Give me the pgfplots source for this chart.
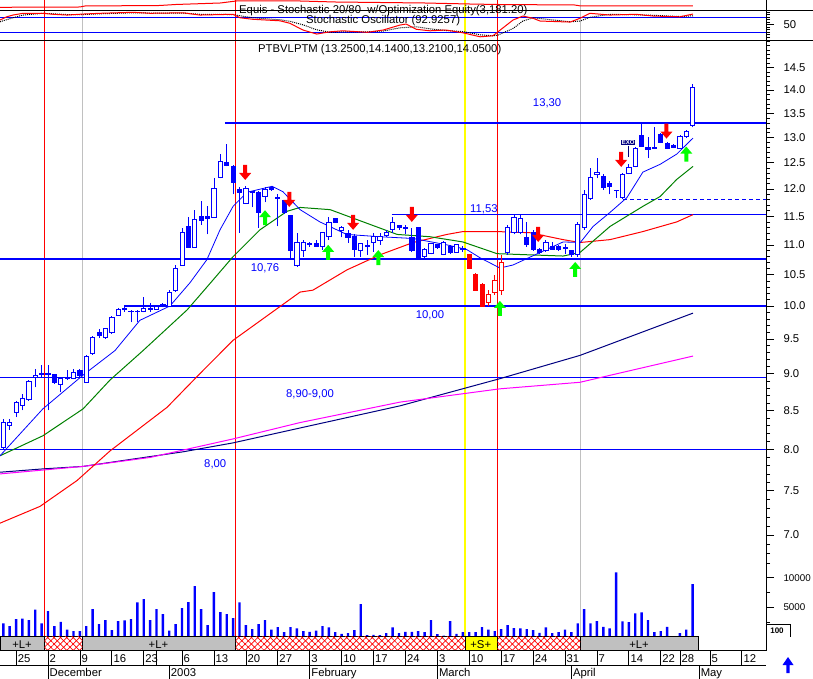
\documentclass[border=0pt]{standalone}
\usepackage{fontspec}
\setmainfont{Liberation Sans}
\usepackage{pgfplots}
\pgfplotsset{compat=1.18}
\usetikzlibrary{patterns.meta}

\definecolor{cblue}{RGB}{0,0,255}
\definecolor{cred}{RGB}{255,0,0}
\definecolor{cgreen}{RGB}{0,128,0}
\definecolor{cnavy}{RGB}{0,0,128}
\definecolor{cmag}{RGB}{255,0,255}
\definecolor{cgray}{RGB}{192,192,192}
\definecolor{cyel}{RGB}{255,255,0}
\definecolor{agreen}{RGB}{0,255,0}
\newcommand\fs{\fontsize{11.3}{13}\selectfont}

\pgfdeclareplotmark{darrow}{%
 \pgfpathmoveto{\pgfqpoint{0pt}{0pt}}%
 \pgfpathlineto{\pgfqpoint{-6pt}{7pt}}%
 \pgfpathlineto{\pgfqpoint{-2pt}{7pt}}%
 \pgfpathlineto{\pgfqpoint{-2pt}{15pt}}%
 \pgfpathlineto{\pgfqpoint{2pt}{15pt}}%
 \pgfpathlineto{\pgfqpoint{2pt}{7pt}}%
 \pgfpathlineto{\pgfqpoint{6pt}{7pt}}%
 \pgfpathclose\pgfusepathqfill}
\pgfdeclareplotmark{uarrow}{%
 \pgfpathmoveto{\pgfqpoint{0pt}{0pt}}%
 \pgfpathlineto{\pgfqpoint{-6pt}{-7pt}}%
 \pgfpathlineto{\pgfqpoint{-2pt}{-7pt}}%
 \pgfpathlineto{\pgfqpoint{-2pt}{-15pt}}%
 \pgfpathlineto{\pgfqpoint{2pt}{-15pt}}%
 \pgfpathlineto{\pgfqpoint{2pt}{-7pt}}%
 \pgfpathlineto{\pgfqpoint{6pt}{-7pt}}%
 \pgfpathclose\pgfusepathqfill}

% candle: color, fill, index, open, high, low, close
\newcommand\cdl[7]{%
 \pgfmathsetmacro\xl{#3-0.33}\pgfmathsetmacro\xr{#3+0.33}%
 \edef\tmp{\noexpand\addplot[#1, line width=0.8pt] coordinates {(#3,#6) (#3,#5)};%
 \noexpand\addplot[draw=#1, fill=#2, line width=0.8pt] coordinates {(\xl,#4) (\xr,#4) (\xr,#7) (\xl,#7)} -- cycle;}%
 \tmp}
\newcommand\W[5]{\cdl{cblue}{white}{#1}{#2}{#3}{#4}{#5}}
\newcommand\F[5]{\cdl{cblue}{cblue}{#1}{#2}{#3}{#4}{#5}}
\newcommand\RW[5]{\cdl{cred}{white}{#1}{#2}{#3}{#4}{#5}}
\newcommand\RF[5]{\cdl{cred}{cred}{#1}{#2}{#3}{#4}{#5}}

\pgfplotsset{panel/.style={anchor=north west, scale only axis, width=766pt,
  xmin=-0.517, xmax=119.49},
  rightax/.style={axis x line=none, axis y line*=right, tick align=outside,
  major tick length=8pt, minor tick length=4pt,
  every tick/.style={black, line width=0.6pt},
  axis line style={black, line width=0.8pt},
  yticklabel style={font=\fs, anchor=west, xshift=6pt},
  scaled y ticks=false}}

\begin{document}
\begin{tikzpicture}[x=1pt,y=1pt]
\useasboundingbox (0,0) rectangle (813,-679);

% ---------- signal lines across panels
\begin{axis}[panel, at={(0pt,0pt)}, height=636.7pt, ymin=0, ymax=1, axis lines=none]
\addplot[color=cred, line width=1.3pt] coordinates {(6.45,0) (6.45,1)};
\addplot[color=cgray, line width=1.3pt] coordinates {(12.4,0) (12.4,1)};
\addplot[color=cred, line width=1.3pt] coordinates {(36.4,0) (36.4,1)};
\addplot[color=cyel, line width=1.3pt] coordinates {(72.35,0) (72.35,1)};
\addplot[color=cred, line width=1.3pt] coordinates {(77.4,0) (77.4,1)};
\addplot[color=cgray, line width=1.3pt] coordinates {(90.4,0) (90.4,1)};
\end{axis}

% ---------- equity panel
\begin{axis}[panel, rightax, at={(0pt,0pt)}, height=10.7pt, ymin=2993, ymax=3421,
  ytick=\empty, minor ytick={3050,3150,3250,3350}]
\addplot[color=cred, line width=1pt] coordinates {(-0.52,3129) (12,3141) (12.8,3181) (24.5,3201) (27,3241) (34,3301) (36.5,3381) (46.5,3381) (52,3341) (66,3301) (73,3261) (77.5,3241) (89.5,3221) (90.5,3181) (108.05,3181)};
\end{axis}

% ---------- stochastic panel
\begin{axis}[panel, rightax, at={(0pt,-10.7pt)}, height=30pt, ymin=-13.6, ymax=106.4,
  ytick={50}, yticklabels={50}, minor ytick={0,10,...,100}]
\addplot[color=cblue, line width=1.3pt] coordinates {(-0.517,80) (119.49,80)};
\addplot[color=cblue, line width=1.3pt] coordinates {(-0.517,20) (119.49,20)};
\addplot[black, densely dotted, line width=1pt] coordinates {(-0.52,62) (1.5,78) (3.1,89) (6.2,96) (9.98,91) (12.5,91) (15.15,94) (20.3,98) (23,97) (28.15,97) (30.8,92) (36,91) (37.1,86) (39.1,78) (43.35,70) (44.9,64) (46.95,50) (49.1,30) (51.2,20) (53.2,22) (57,22) (59.5,25) (62.15,38) (64.7,42) (66.85,34) (69.35,27) (72,23) (74.7,10) (76.7,6) (77.5,9) (79.85,35) (81.4,65) (83,78) (84.1,75) (88.8,62) (90.35,65) (91.9,80) (95.05,92) (99.1,90) (101.8,88) (106,83) (108.05,86)};
\addplot[color=cred, line width=1pt] coordinates {(-0.52,69) (0.53,82) (1.52,89) (3.09,96) (6.22,96) (7.79,92) (9.98,89) (12.5,93) (15.15,96) (20.3,100) (23.0,96) (28.15,98) (30.8,89) (36.0,92) (37.1,78) (39.1,72) (43.35,66) (44.9,56) (46.95,29) (49.1,13) (51.2,22) (53.2,26) (57.0,20) (59.5,29) (62.15,49) (63.1,53) (64.7,32) (66.85,26) (69.35,29) (72.0,18) (74.7,2) (76.7,6) (77.5,22) (79.85,69) (81.4,85) (83.0,76) (84.1,65) (88.8,61) (90.35,76) (91.9,96) (95.05,89) (99.1,92) (101.8,85) (106.0,82) (108.05,93)};
\end{axis}

% ---------- main price panel
\begin{axis}[panel, rightax, at={(0pt,-40.7pt)}, height=526.3pt, ymode=log, ymin=6.66, ymax=15.12,
  ytick={7,7.5,8,8.5,9,9.5,10,10.5,11,11.5,12,12.5,13,13.5,14,14.5},
  yticklabels={7.0,7.5,8.0,8.5,9.0,9.5,10.0,10.5,11.0,11.5,12.0,12.5,13.0,13.5,14.0,14.5},
  minor ytick={6.7,6.8,6.9,7.1,7.2,7.3,7.4,7.6,7.7,7.8,7.9,8.1,8.2,8.3,8.4,8.6,8.7,8.8,8.9,9.1,9.2,9.3,9.4,9.6,9.7,9.8,9.9,10.1,10.2,10.3,10.4,10.6,10.7,10.8,10.9,11.1,11.2,11.3,11.4,11.6,11.7,11.8,11.9,12.1,12.2,12.3,12.4,12.6,12.7,12.8,12.9,13.1,13.2,13.3,13.4,13.6,13.7,13.8,13.9,14.1,14.2,14.3,14.4,14.6,14.7,14.8,14.9,15.0,15.1}]
% support / resistance lines
\addplot[color=cblue, line width=1.4pt] coordinates {(34.7,13.30) (119.49,13.30)};
\addplot[color=cblue, line width=1.4pt] coordinates {(60.85,11.53) (119.49,11.53)};
\addplot[color=cblue, line width=1.4pt] coordinates {(-0.517,10.76) (119.49,10.76)};
\addplot[color=cblue, line width=1.4pt] coordinates {(18.9,10.00) (119.49,10.00)};
\addplot[color=cblue, line width=1.4pt] coordinates {(-0.517,8.95) (119.49,8.95)};
\addplot[color=cblue, line width=1.4pt] coordinates {(-0.517,8.00) (119.49,8.00)};
\addplot[color=cblue, line width=1.3pt, dash pattern=on 4pt off 3pt] coordinates {(97.1,11.80) (119.49,11.80)};
% moving averages
\addplot[color=cnavy, line width=1pt] coordinates {(-0.52,7.72) (6.2,7.76) (12.5,7.79) (20.3,7.88) (28.15,7.97) (36.0,8.08) (46.5,8.27) (62.15,8.56) (77.8,8.93) (90.35,9.26) (108.05,9.89)};
\addplot[color=cmag, line width=1pt] coordinates {(-0.52,7.70) (12.5,7.79) (23.0,7.90) (36.0,8.13) (46.5,8.34) (62.15,8.61) (77.8,8.79) (90.35,8.88) (108.05,9.25)};
\addplot[color=cred, line width=1pt] coordinates {(-0.52,7.13) (5.75,7.32) (11.55,7.62) (16.7,7.98) (25.65,8.54) (30.8,9.00) (36.0,9.48) (46.5,10.22) (48.5,10.25) (53.85,10.58) (59.0,10.83) (64.2,11.04) (69.5,11.18) (72.0,11.23) (77.35,11.23) (82.5,11.21) (87.7,11.09) (90.35,11.04) (95.05,11.09) (100.2,11.23) (105.5,11.40) (108.05,11.53)};
\addplot[color=cgreen, line width=1pt] coordinates {(-0.52,7.92) (6.2,8.17) (12.5,8.52) (16.7,8.91) (21.9,9.33) (28.8,9.94) (31.9,10.30) (36.0,10.80) (40.2,11.26) (44.45,11.59) (46.5,11.66) (51.2,11.62) (56.4,11.40) (61.7,11.18) (66.85,11.14) (72.0,11.05) (77.35,10.85) (82.5,10.83) (87.7,10.81) (90.35,10.87) (95.05,11.32) (100.2,11.68) (102.9,11.86) (105.5,12.18) (108.05,12.43)};
\addplot[color=cblue, line width=0.8pt] coordinates {(-0.52,7.92) (6.2,8.52) (12.5,8.98) (17.5,9.33) (21.4,9.78) (26.1,10.00) (29.25,10.37) (31.9,10.75) (33.95,11.26) (36.0,11.68) (38.2,11.94) (40.7,12.01) (42.1,12.05) (43.8,11.95) (46.5,11.62) (49.6,11.40) (53.8,11.18) (59.0,11.14) (64.2,11.11) (69.5,11.00) (72.6,10.92) (74.7,10.78) (77.8,10.61) (79.85,10.66) (84.1,10.87) (87.7,11.05) (90.4,11.04) (92.4,11.32) (95.05,11.57) (97.7,11.84) (100.2,12.32) (102.9,12.47) (105.5,12.67) (108.05,12.99)};
% candles (index, open, high, low, close)
\W{0}{8.02}{8.38}{7.99}{8.34}
\W{1}{8.30}{8.38}{8.25}{8.34}
\W{2}{8.47}{8.62}{8.41}{8.61}
\W{3}{8.57}{8.72}{8.50}{8.66}
\W{4}{8.64}{8.91}{8.63}{8.89}
\W{5}{8.95}{9.06}{8.81}{8.98}
\W{6}{8.99}{9.12}{8.95}{9.00}
\F{7}{9.00}{9.12}{8.50}{8.99}
\F{8}{8.99}{9.00}{8.86}{8.88}
\W{9}{8.85}{8.94}{8.75}{8.93}
\W{10}{8.93}{9.05}{8.91}{8.94}
\W{11}{8.93}{9.07}{8.92}{9.02}
\F{12}{9.05}{9.06}{8.95}{8.98}
\W{13}{8.88}{9.27}{8.87}{9.25}
\W{14}{9.29}{9.55}{9.27}{9.53}
\F{15}{9.60}{9.65}{9.52}{9.56}
\W{16}{9.53}{9.67}{9.50}{9.65}
\W{17}{9.59}{9.84}{9.58}{9.83}
\W{18}{9.86}{9.97}{9.85}{9.95}
\W{19}{9.95}{9.98}{9.91}{9.96}
\F{20}{9.92}{9.94}{9.75}{9.91}
\W{21}{9.91}{9.94}{9.75}{9.92}
\W{22}{9.91}{10.14}{9.90}{9.97}
\W{23}{9.95}{10.05}{9.91}{9.96}
\W{24}{9.95}{10.02}{9.94}{10.00}
\W{25}{10.01}{10.05}{9.98}{10.02}
\W{26}{10.00}{10.25}{9.98}{10.22}
\W{27}{10.24}{10.66}{10.22}{10.61}
\W{28}{10.66}{11.30}{10.65}{11.21}
\F{29}{11.32}{11.48}{10.95}{10.95}
\W{30}{10.95}{11.62}{10.95}{11.44}
\F{31}{11.50}{11.77}{11.35}{11.42}
\F{32}{11.50}{11.68}{11.18}{11.47}
\W{33}{11.48}{12.20}{11.47}{12.01}
\W{34}{12.22}{12.67}{12.20}{12.53}
\F{35}{12.51}{12.87}{12.43}{12.45}
\F{36}{12.43}{12.45}{11.90}{12.13}
\F{37}{11.99}{12.03}{11.21}{11.93}
\W{38}{11.73}{12.05}{11.72}{12.01}
\F{39}{11.95}{11.97}{11.66}{11.94}
\F{40}{11.94}{11.96}{11.30}{11.57}
\W{41}{11.86}{12.03}{11.75}{11.99}
\F{42}{12.03}{12.06}{11.97}{11.99}
\F{43}{11.84}{11.90}{11.32}{11.83}
\F{44}{11.79}{11.80}{11.55}{11.57}
\F{45}{11.52}{11.53}{10.75}{10.90}
\W{46}{10.66}{11.21}{10.63}{11.04}
\W{47}{10.90}{11.09}{10.80}{11.05}
\F{48}{11.02}{11.05}{10.97}{11.01}
\F{49}{11.02}{11.09}{10.97}{10.98}
\W{50}{10.97}{11.22}{10.92}{11.21}
\W{51}{11.14}{11.48}{11.09}{11.39}
\F{52}{11.46}{11.47}{11.39}{11.40}
\W{53}{11.25}{11.33}{11.13}{11.30}
\F{54}{11.19}{11.26}{11.04}{11.13}
\F{55}{11.14}{11.18}{10.80}{10.92}
\W{56}{10.90}{11.04}{10.80}{11.02}
\F{57}{10.99}{11.09}{10.83}{10.98}
\W{58}{11.05}{11.21}{10.88}{11.14}
\W{59}{11.07}{11.21}{11.00}{11.14}
\W{60}{11.16}{11.26}{11.14}{11.21}
\W{61}{11.26}{11.48}{11.21}{11.39}
\F{62}{11.33}{11.35}{11.26}{11.30}
\F{63}{11.30}{11.35}{11.18}{11.29}
\F{64}{11.13}{11.30}{10.87}{10.90}
\F{65}{11.30}{11.31}{10.77}{10.78}
\W{66}{10.80}{10.95}{10.75}{10.92}
\W{67}{10.85}{11.04}{10.84}{11.02}
\F{68}{11.00}{11.02}{10.93}{10.95}
\W{69}{10.83}{11.07}{10.82}{11.05}
\F{70}{10.98}{11.00}{10.85}{10.87}
\W{71}{10.88}{11.02}{10.87}{11.00}
\F{72}{10.94}{10.98}{10.88}{10.93}
\RF{73}{10.83}{10.84}{10.59}{10.60}
\RF{74}{10.50}{10.52}{10.24}{10.25}
\RF{75}{10.35}{10.36}{10.00}{10.00}
\RW{76}{10.05}{10.25}{10.00}{10.19}
\RW{77}{10.22}{10.50}{10.18}{10.41}
\RW{78}{10.25}{10.83}{10.18}{10.70}
\W{79}{10.88}{11.35}{10.83}{11.30}
\W{80}{11.21}{11.53}{11.18}{11.48}
\W{81}{11.21}{11.55}{11.18}{11.46}
\F{82}{11.13}{11.39}{10.97}{11.00}
\F{83}{11.21}{11.26}{10.90}{10.92}
\F{84}{10.92}{10.95}{10.85}{10.87}
\W{85}{10.90}{11.09}{10.88}{11.05}
\F{86}{10.98}{11.05}{10.92}{10.93}
\F{87}{10.97}{10.99}{10.90}{10.92}
\F{88}{10.96}{11.02}{10.85}{10.94}
\F{89}{10.90}{10.92}{10.80}{10.83}
\W{90}{10.83}{11.40}{10.80}{11.35}
\W{91}{11.30}{11.99}{11.26}{11.90}
\W{92}{11.83}{12.39}{11.80}{12.22}
\W{93}{12.28}{12.59}{12.20}{12.32}
\F{94}{12.24}{12.28}{11.99}{12.03}
\F{95}{12.11}{12.15}{11.90}{12.05}
\F{96}{11.98}{11.99}{11.84}{11.97}
\W{97}{11.84}{12.30}{11.82}{12.28}
\W{98}{12.30}{12.47}{12.28}{12.41}
\W{99}{12.43}{12.81}{12.41}{12.79}
\F{100}{13.05}{13.30}{12.81}{12.83}
\F{101}{12.81}{13.01}{12.59}{12.77}
\F{102}{12.80}{13.21}{12.77}{12.79}
\F{103}{13.07}{13.09}{12.89}{12.91}
\F{104}{12.89}{12.91}{12.77}{12.79}
\F{105}{12.85}{12.87}{12.79}{12.81}
\W{106}{12.79}{13.05}{12.77}{13.03}
\W{107}{13.03}{13.15}{12.99}{13.13}
\W{108}{13.25}{14.14}{13.21}{14.05}
% signal arrows
\addplot[only marks, mark=darrow, color=cred] coordinates {(37.9,12.17) (44.8,11.67) (54.8,11.26) (64.0,11.40) (83.8,11.05) (96.8,12.42) (103.9,12.98)};
\addplot[only marks, mark=uarrow, color=agreen] coordinates {(41.0,11.61) (50.9,11.00) (58.75,10.91) (77.8,10.08) (89.6,10.71) (107.0,12.82)};
\addplot[color=cnavy, line width=1pt] coordinates {(97.9,12.84) (97.9,12.62)};
\node[fill=cnavy, text=white, font=\fontsize{6}{6}\selectfont\bfseries, inner sep=0.8pt] at (axis cs:97.9,12.90) {EXO};
% level labels
\node[text=cblue, font=\fs] at (axis cs:85.2,13.72) {13,30};
\node[text=cblue, font=\fs] at (axis cs:75.3,11.63) {11,53};
\node[text=cblue, font=\fs] at (axis cs:41.0,10.61) {10,76};
\node[text=cblue, font=\fs] at (axis cs:66.85,9.85) {10,00};
\node[text=cblue, font=\fs] at (axis cs:48.05,8.72) {8,90-9,00};
\node[text=cblue, font=\fs] at (axis cs:33.2,7.82) {8,00};
\end{axis}

% ---------- volume panel
\begin{axis}[panel, rightax, at={(0pt,-567pt)}, height=69.7pt, ymin=0, ymax=11800,
  ytick={5000,10000}, yticklabels={5000,10000}, minor ytick={2500,7500},
  yticklabel style={font=\fontsize{9.8}{12}\selectfont, anchor=west, xshift=0pt}]
\addplot[ybar, bar width=2.4pt, fill=cblue, draw=none] coordinates {
(0,2240) (1,1780) (2,2970) (3,3080) (4,2800) (5,4600) (6,2240) (7,4320) (8,1780) (9,2510)
(10,1220) (11,930) (12,930) (13,1780) (14,4660) (15,2120) (16,2800) (17,1100) (18,2630) (19,2750)
(20,2970) (21,5800) (22,6360) (23,2800) (24,4660) (25,3810) (26,1050) (27,2120) (28,4830) (29,5850)
(30,8560) (31,4660) (32,1950) (33,7540) (34,4150) (35,3810) (36,3140) (37,5800) (38,1950) (39,1270)
(40,2120) (41,2800) (42,1220) (43,1610) (44,760) (45,1610) (46,1390) (47,930) (48,810) (49,1050)
(50,1780) (51,1560) (52,760) (53,470) (54,590) (55,1100) (56,5500) (57,250) (58,300) (59,250)
(60,590) (61,1560) (62,590) (63,810) (64,810) (65,930) (66,760) (67,2800) (68,420) (69,200)
(70,2630) (71,470) (72,760) (73,760) (74,760) (75,1610) (76,1220) (77,930) (78,1270) (79,1950)
(80,1440) (81,1390) (82,1270) (83,1100) (84,640) (85,1560) (86,590) (87,760) (88,1220) (89,760)
(90,2240) (91,4660) (92,2240) (93,2630) (94,1660) (95,1390) (96,10880) (97,2580) (98,2460) (99,3930)
(100,4100) (101,2800) (102,760) (103,930) (104,1660) (106,590) (107,1220) (108,8900)};
\end{axis}

% ---------- signal band
\begin{axis}[panel, at={(0pt,-636.7pt)}, height=14pt, ymin=0, ymax=1, axis lines=none]
\addplot[fill=cgray, draw=black, line width=0.6pt] coordinates {(-0.517,0) (6.45,0) (6.45,1) (-0.517,1)} -- cycle;
\addplot[fill=cgray, draw=black, line width=0.6pt] coordinates {(12.4,0) (36.4,0) (36.4,1) (12.4,1)} -- cycle;
\addplot[fill=cgray, draw=black, line width=0.6pt] coordinates {(90.4,0) (108.9,0) (108.9,1) (90.4,1)} -- cycle;
\addplot[fill=cyel, draw=black, line width=0.6pt] coordinates {(72.35,0) (77.4,0) (77.4,1) (72.35,1)} -- cycle;
\addplot[draw=black, line width=0.6pt, pattern={Lines[angle=45,distance=4.5pt,line width=0.7pt]}, pattern color=cred] coordinates {(6.45,0) (12.4,0) (12.4,1) (6.45,1)} -- cycle;
\addplot[draw=none, pattern={Lines[angle=-45,distance=4.5pt,line width=0.7pt]}, pattern color=cred] coordinates {(6.45,0) (12.4,0) (12.4,1) (6.45,1)} -- cycle;
\addplot[draw=black, line width=0.6pt, pattern={Lines[angle=45,distance=4.5pt,line width=0.7pt]}, pattern color=cred] coordinates {(36.4,0) (72.35,0) (72.35,1) (36.4,1)} -- cycle;
\addplot[draw=none, pattern={Lines[angle=-45,distance=4.5pt,line width=0.7pt]}, pattern color=cred] coordinates {(36.4,0) (72.35,0) (72.35,1) (36.4,1)} -- cycle;
\addplot[draw=black, line width=0.6pt, pattern={Lines[angle=45,distance=4.5pt,line width=0.7pt]}, pattern color=cred] coordinates {(77.4,0) (90.4,0) (90.4,1) (77.4,1)} -- cycle;
\addplot[draw=none, pattern={Lines[angle=-45,distance=4.5pt,line width=0.7pt]}, pattern color=cred] coordinates {(77.4,0) (90.4,0) (90.4,1) (77.4,1)} -- cycle;
\node[font=\fs, anchor=base] at (axis cs:2.93,0.19) {+L+};
\node[font=\fs, anchor=base] at (axis cs:24.3,0.19) {+L+};
\node[font=\fs, anchor=base] at (axis cs:74.8,0.19) {+S+};
\node[font=\fs, anchor=base] at (axis cs:99.6,0.19) {+L+};
\end{axis}

% ---------- day row
\begin{axis}[panel, at={(0pt,-650.7pt)}, height=14.3pt, ymin=0, ymax=1, axis lines=none, clip=false]
\addplot[ycomb, black, line width=0.7pt] coordinates {(2,1) (7,1) (12,1) (17,1) (22,1) (24,1) (28,1) (33,1) (38,1) (43,1) (48,1) (53,1) (58,1) (63,1) (68,1) (73,1) (78,1) (83,1) (88,1) (93,1) (98,1) (103,1) (106,1) (110.7,1) (115.7,1)};
\foreach \p/\l in {2/25,7/2,12/9,17/16,22/23,28/6,33/13,38/20,43/27,48/3,53/10,58/17,63/24,68/3,73/10,78/17,83/24,88/31,93/7,98/14,103/22,106/28,110.7/5,115.7/12}{
  \edef\tmp{\noexpand\node[font=\noexpand\fs, anchor=base west, inner sep=0pt, xshift=1.5pt] at (axis cs:\p,0.19) {\l};}\tmp}
\end{axis}

% ---------- month row
\begin{axis}[panel, at={(0pt,-665pt)}, height=14pt, ymin=0, ymax=1, axis lines=none, clip=false]
\addplot[ycomb, black, line width=0.7pt] coordinates {(7,1) (26,1) (48,1) (68,1) (89,1) (109,1)};
\foreach \p/\l in {7/December,26/2003,48/February,68/March,89/April,109/May}{
  \edef\tmp{\noexpand\node[font=\noexpand\fs, anchor=base west, inner sep=0pt, xshift=1.5pt] at (axis cs:\p,0.164) {\l};}\tmp}
\end{axis}

% ---------- frame decorations
\draw[black, line width=0.9pt] (0,-10.7) -- (813,-10.7);
\draw[black, line width=0.9pt] (0,-40.7) -- (813,-40.7);
\draw[black, line width=0.8pt] (766,0) -- (766,-650.7);
\draw[black, line width=0.8pt] (0,-650.7) -- (766,-650.7);
\draw[black, line width=0.8pt] (0,-665) -- (766,-665);
\draw[black, line width=0.8pt] (766,-624) -- (790,-624) -- (790,-636.7);
\node[font=\fontsize{8}{8}\selectfont\bfseries, inner sep=0pt] at (777,-631) {100};
\fill[cblue] (788,-657) -- (782.5,-665) -- (786.3,-665) -- (786.3,-673) -- (789.7,-673) -- (789.7,-665) -- (793.5,-665) -- cycle;
% titles
\node[font=\fs, anchor=base west, inner sep=0pt] at (239,-14) {Equis - Stochastic 20/80\ \ w/Optimization Equity(3,181.20)};
\node[font=\fs, anchor=base west, inner sep=0pt] at (306,-24) {Stochastic Oscillator (92.9257)};
\node[font=\fs, anchor=base west, inner sep=0pt] at (258,-53) {PTBVLPTM (13.2500,14.1400,13.2100,14.0500)};
\end{tikzpicture}
\end{document}
